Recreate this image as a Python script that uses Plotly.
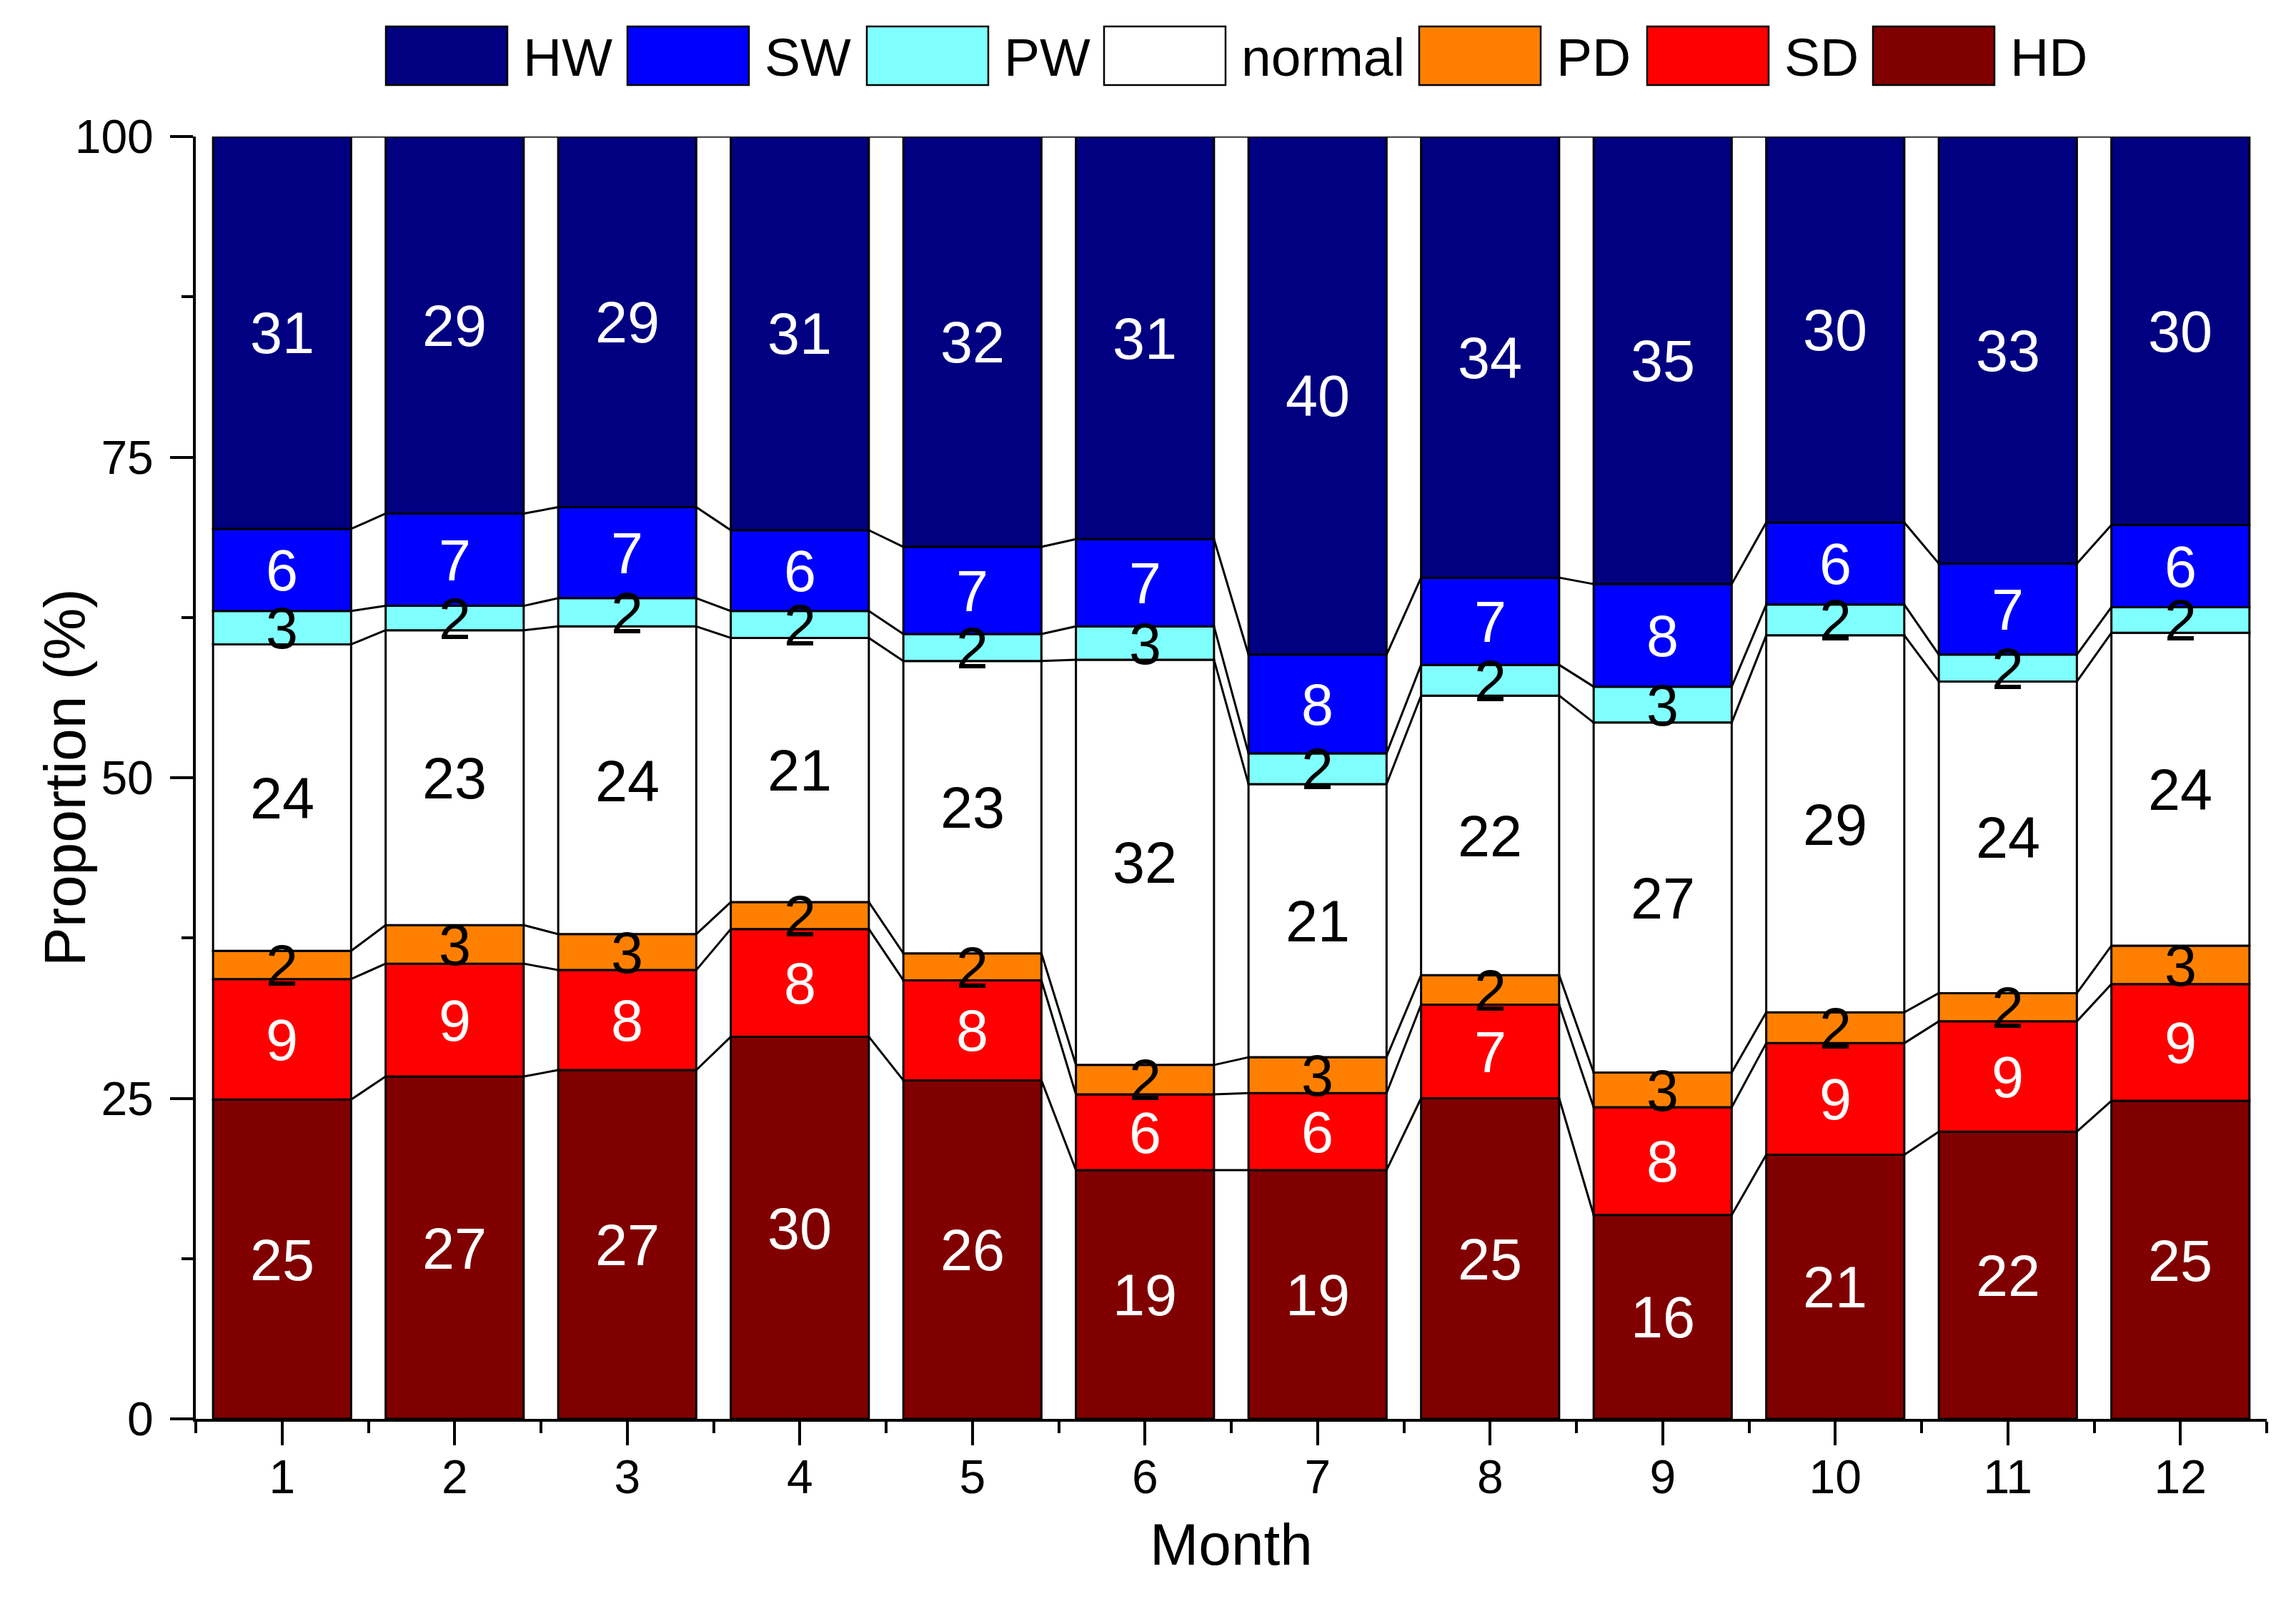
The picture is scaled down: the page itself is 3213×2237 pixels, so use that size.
import plotly.graph_objects as go

months = list(range(1, 13))

# proportions (%) per month, bottom of the stack first
HD = [24.9, 26.7, 27.2, 29.8, 26.4, 19.4, 19.4, 25.0, 15.9, 20.6, 22.4, 24.8]
SD = [9.4, 8.8, 7.8, 8.4, 7.8, 5.9, 6.0, 7.3, 8.4, 8.7, 8.6, 9.1]
PD = [2.2, 3.0, 2.8, 2.1, 2.1, 2.3, 2.8, 2.3, 2.7, 2.4, 2.2, 3.0]
normal = [23.9, 23.0, 24.0, 20.6, 22.8, 31.6, 21.3, 21.8, 27.3, 29.4, 24.3, 24.4]
PW = [2.6, 1.9, 2.2, 2.1, 2.1, 2.6, 2.4, 2.4, 2.8, 2.4, 2.1, 2.0]
SW = [6.4, 7.2, 7.1, 6.3, 6.8, 6.8, 7.7, 6.8, 8.0, 6.4, 7.1, 6.4]
HW = [30.6, 29.4, 28.9, 30.7, 32.0, 31.4, 40.4, 34.4, 34.9, 30.1, 33.3, 30.3]

series = [
    ("HD", HD, "#800000", "white"),
    ("SD", SD, "#FF0000", "white"),
    ("PD", PD, "#FF8000", "black"),
    ("normal", normal, "#FFFFFF", "black"),
    ("PW", PW, "#80FFFF", "black"),
    ("SW", SW, "#0000FF", "white"),
    ("HW", HW, "#000080", "white"),
]

FONT = "Liberation Sans, Arial, sans-serif"
# page body adds an 8px margin, so the figure is drawn 8px in from the corner
OFF = 8
W, H = 3213 - 2 * OFF, 2237 - 2 * OFF
L, T = 274 - OFF, 191 - OFF
R, B = W - (3172 - OFF), H - (1985 - OFF)
BAR_W = 0.8


def px_x(px):
    # px in reference picture coordinates
    return (px - OFF - L) / (W - L - R)


def px_y(py):
    return (H - B - (py - OFF)) / (H - T - B)


fig = go.Figure()
annotations = []

base = [0.0] * 12
tops = []
for name, vals, color, txt_color in series:
    fig.add_trace(go.Bar(
        x=months, y=vals, base=base, name=name, width=BAR_W,
        marker=dict(color=color, line=dict(color="black", width=3)),
        showlegend=False, hoverinfo="skip",
    ))
    # value labels in the middle of each segment
    for m, b, v in zip(months, base, vals):
        annotations.append(dict(
            x=m, y=b + v / 2, text=str(round(v)), showarrow=False,
            xanchor="center", yanchor="middle", yshift=-1,
            font=dict(family=FONT, size=81, color=txt_color),
        ))
    base = [b + v for b, v in zip(base, vals)]
    tops.append(base)

# connecting lines between neighbouring columns
for top in tops:
    xs, ys = [], []
    for i in range(11):
        xs += [months[i] + BAR_W / 2, months[i + 1] - BAR_W / 2, None]
        ys += [top[i], top[i + 1], None]
    fig.add_trace(go.Scatter(
        x=xs, y=ys, mode="lines", line=dict(color="black", width=3),
        showlegend=False, hoverinfo="skip",
    ))

# legend drawn by hand (large swatches)
legend_order = ["HW", "SW", "PW", "normal", "PD", "SD", "HD"]
legend_left = [540, 878, 1213, 1545, 1986, 2305, 2621]
colors = {n: c for n, _, c, _ in series}
shapes = []
for name, x0 in zip(legend_order, legend_left):
    shapes.append(dict(
        type="rect", xref="paper", yref="paper",
        x0=px_x(x0), x1=px_x(x0 + 170), y0=px_y(119), y1=px_y(37),
        fillcolor=colors[name], line=dict(color="black", width=2.5),
    ))
    annotations.append(dict(
        xref="paper", yref="paper", x=px_x(x0 + 190), y=px_y(80),
        text=name, showarrow=False, xanchor="left", yanchor="middle",
        font=dict(family=FONT, size=75, color="black"),
    ))

annotations.append(dict(
    xref="paper", yref="paper", x=px_x(90), y=px_y(1088),
    text="Proportion (%)", textangle=-90, showarrow=False,
    xanchor="center", yanchor="middle",
    font=dict(family=FONT, size=82, color="black"),
))
annotations.append(dict(
    xref="paper", yref="paper", x=px_x(1723), y=px_y(2160),
    text="Month", showarrow=False, xanchor="center", yanchor="middle",
    font=dict(family=FONT, size=82, color="black"),
))

fig.update_layout(
    width=W, height=H,
    margin=dict(l=L, r=R, t=T, b=B, pad=0),
    barmode="overlay",
    paper_bgcolor="white", plot_bgcolor="white",
    shapes=shapes, annotations=annotations,
    font=dict(family=FONT, color="black"),
)
fig.update_xaxes(
    range=[0.5, 12.5], tickvals=months, ticktext=[str(m) for m in months],
    showgrid=False, zeroline=False, showline=True, linecolor="black", linewidth=4,
    ticks="outside", ticklen=33, tickwidth=4, tickcolor="black",
    minor=dict(ticks="outside", tick0=0.5, dtick=1, ticklen=16, tickwidth=4, tickcolor="black"),
    tickfont=dict(family=FONT, size=66, color="black"),
    ticklabelstandoff=-12, automargin=False,
)
fig.update_yaxes(
    range=[0, 100], tickvals=[0, 25, 50, 75, 100],
    showgrid=False, zeroline=False, showline=True, linecolor="black", linewidth=4,
    ticks="outside", ticklen=32, tickwidth=4, tickcolor="black",
    minor=dict(ticks="outside", tick0=0, dtick=12.5, ticklen=16, tickwidth=4, tickcolor="black"),
    tickfont=dict(family=FONT, size=66, color="black"),
    ticklabelstandoff=10, automargin=False,
)

fig.write_html("out.html")
